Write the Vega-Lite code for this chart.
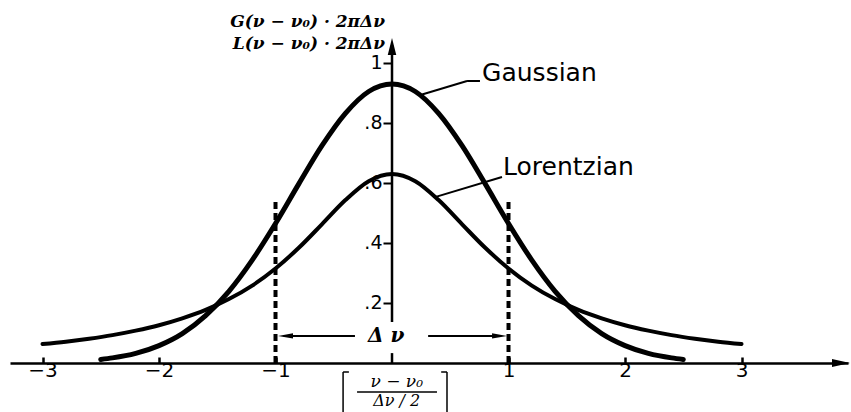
{
  "$schema": "https://vega.github.io/schema/vega-lite/v6.json",
  "width": 838,
  "height": 325,
  "autosize": {"type": "none"},
  "padding": {"left": 10, "top": 38, "right": 3, "bottom": 49},
  "background": "white",
  "config": {"view": {"stroke": null}},
  "data": {"values": [{}]},
  "datasets": {
    "gaussian": [
      {"x": -2.5, "value": 0.012}, {"x": -2.4, "value": 0.017}, {"x": -2.2, "value": 0.032},
      {"x": -2.0, "value": 0.058}, {"x": -1.8, "value": 0.098}, {"x": -1.6, "value": 0.158},
      {"x": -1.4, "value": 0.239}, {"x": -1.2, "value": 0.343}, {"x": -1.0, "value": 0.465},
      {"x": -0.8, "value": 0.597}, {"x": -0.6, "value": 0.725}, {"x": -0.4, "value": 0.832},
      {"x": -0.2, "value": 0.905}, {"x": 0.0, "value": 0.93}, {"x": 0.2, "value": 0.905},
      {"x": 0.4, "value": 0.832}, {"x": 0.6, "value": 0.725}, {"x": 0.8, "value": 0.597},
      {"x": 1.0, "value": 0.465}, {"x": 1.2, "value": 0.343}, {"x": 1.4, "value": 0.239},
      {"x": 1.6, "value": 0.158}, {"x": 1.8, "value": 0.098}, {"x": 2.0, "value": 0.058},
      {"x": 2.2, "value": 0.032}, {"x": 2.4, "value": 0.017}, {"x": 2.5, "value": 0.012}
    ],
    "lorentzian": [
      {"x": -3.0, "value": 0.063}, {"x": -2.8, "value": 0.071}, {"x": -2.6, "value": 0.081},
      {"x": -2.4, "value": 0.093}, {"x": -2.2, "value": 0.108}, {"x": -2.0, "value": 0.126},
      {"x": -1.8, "value": 0.149}, {"x": -1.6, "value": 0.177}, {"x": -1.4, "value": 0.213},
      {"x": -1.2, "value": 0.258}, {"x": -1.0, "value": 0.315}, {"x": -0.8, "value": 0.384},
      {"x": -0.6, "value": 0.463}, {"x": -0.4, "value": 0.543}, {"x": -0.2, "value": 0.606},
      {"x": 0.0, "value": 0.63}, {"x": 0.2, "value": 0.606}, {"x": 0.4, "value": 0.543},
      {"x": 0.6, "value": 0.463}, {"x": 0.8, "value": 0.384}, {"x": 1.0, "value": 0.315},
      {"x": 1.2, "value": 0.258}, {"x": 1.4, "value": 0.213}, {"x": 1.6, "value": 0.177},
      {"x": 1.8, "value": 0.149}, {"x": 2.0, "value": 0.126}, {"x": 2.2, "value": 0.108},
      {"x": 2.4, "value": 0.093}, {"x": 2.6, "value": 0.081}, {"x": 2.8, "value": 0.071},
      {"x": 3.0, "value": 0.063}
    ],
    "halfWidth": [{"x": -1}, {"x": 1}]
  },
  "layer": [
    {
      "data": {"name": "gaussian"},
      "mark": {"type": "line", "color": "black", "strokeWidth": 5, "interpolate": "monotone", "strokeCap": "round"},
      "encoding": {
        "x": {
          "field": "x", "type": "quantitative", "title": null,
          "scale": {"domain": [-3.279, 3.914], "nice": false, "zero": false},
          "axis": {
            "values": [-3, -2, -1, 1, 2, 3], "format": "d", "grid": false,
            "domainColor": "black", "domainWidth": 2.5,
            "tickColor": "black", "tickWidth": 2.5, "tickSize": -6,
            "labelFont": "DejaVu Sans", "labelFontSize": 20, "labelColor": "black",
            "labelPadding": 3, "labelFlush": false
          }
        },
        "y": {
          "field": "value", "type": "quantitative", "title": null,
          "scale": {"domain": [0, 1.0833], "nice": false, "zero": false},
          "axis": {
            "values": [0.2, 0.4, 0.6, 0.8, 1], "grid": false, "domain": false,
            "offset": -382,
            "tickColor": "black", "tickWidth": 2, "tickSize": 9,
            "labelFont": "DejaVu Sans", "labelFontSize": 19, "labelColor": "black",
            "labelPadding": 1,
            "labelExpr": "datum.value == 1 ? '1' : replace(format(datum.value, '.1f'), '0.', '.')"
          }
        }
      }
    },
    {
      "data": {"name": "lorentzian"},
      "mark": {"type": "line", "color": "black", "strokeWidth": 4, "interpolate": "monotone", "strokeCap": "round"},
      "encoding": {
        "x": {"field": "x", "type": "quantitative"},
        "y": {"field": "value", "type": "quantitative"}
      }
    },
    {
      "data": {"name": "halfWidth"},
      "mark": {"type": "rule", "color": "black", "strokeWidth": 4, "strokeDash": [7, 4]},
      "encoding": {
        "x": {"field": "x", "type": "quantitative"},
        "y": {"datum": 0},
        "y2": {"datum": 0.55}
      }
    },
    {
      "mark": {"type": "rule", "color": "black", "strokeWidth": 2.5},
      "encoding": {"x": {"datum": 0}, "y": {"datum": 0}, "y2": {"datum": 0.033}}
    },
    {
      "mark": {"type": "rule", "color": "black", "strokeWidth": 2.5},
      "encoding": {"x": {"datum": 0}, "y": {"datum": 0.137}, "y2": {"datum": 1.06}}
    },
    {
      "mark": {"type": "point", "filled": true, "color": "black", "opacity": 1, "size": 289, "shape": "M0,-1L0.5,1L-0.5,1Z"},
      "encoding": {"x": {"datum": 0}, "y": {"datum": 1.055}}
    },
    {
      "mark": {"type": "point", "filled": true, "color": "black", "opacity": 1, "size": 324, "shape": "M1,0L-1,-0.45L-1,0.45Z"},
      "encoding": {"x": {"datum": 3.854}, "y": {"datum": 0}}
    },
    {
      "mark": {"type": "rule", "color": "black", "strokeWidth": 2},
      "encoding": {"x": {"datum": -0.318}, "x2": {"datum": -0.93}, "y": {"datum": 0.09}}
    },
    {
      "mark": {"type": "rule", "color": "black", "strokeWidth": 2},
      "encoding": {"x": {"datum": 0.31}, "x2": {"datum": 0.93}, "y": {"datum": 0.09}}
    },
    {
      "mark": {"type": "point", "filled": true, "color": "black", "opacity": 1, "size": 225, "shape": "M-1,0L1,-0.35L1,0.35Z"},
      "encoding": {"x": {"datum": -0.914}, "y": {"datum": 0.09}}
    },
    {
      "mark": {"type": "point", "filled": true, "color": "black", "opacity": 1, "size": 225, "shape": "M1,0L-1,-0.35L-1,0.35Z"},
      "encoding": {"x": {"datum": 0.923}, "y": {"datum": 0.09}}
    },
    {
      "mark": {"type": "text", "text": "Δ ν", "font": "DejaVu Serif", "fontSize": 20, "fontStyle": "italic", "fontWeight": "bold", "align": "center", "baseline": "middle", "color": "black"},
      "encoding": {"x": {"datum": -0.05}, "y": {"datum": 0.09}}
    },
    {
      "mark": {"type": "rule", "color": "black", "strokeWidth": 2},
      "encoding": {"x": {"datum": 0.258}, "y": {"datum": 0.895}, "x2": {"datum": 0.644}, "y2": {"datum": 0.94}}
    },
    {
      "mark": {"type": "rule", "color": "black", "strokeWidth": 2},
      "encoding": {"x": {"datum": 0.644}, "y": {"datum": 0.94}, "x2": {"datum": 0.755}, "y2": {"datum": 0.94}}
    },
    {
      "mark": {"type": "rule", "color": "black", "strokeWidth": 2},
      "encoding": {"x": {"datum": 0.369}, "y": {"datum": 0.553}, "x2": {"datum": 0.944}, "y2": {"datum": 0.62}}
    },
    {
      "mark": {"type": "text", "text": "Gaussian", "font": "DejaVu Sans", "fontSize": 25, "align": "left", "baseline": "alphabetic", "color": "black"},
      "encoding": {"x": {"datum": 0.773}, "y": {"datum": 0.94}}
    },
    {
      "mark": {"type": "text", "text": "Lorentzian", "font": "DejaVu Sans", "fontSize": 25, "align": "left", "baseline": "alphabetic", "color": "black"},
      "encoding": {"x": {"datum": 0.953}, "y": {"datum": 0.625}}
    },
    {
      "mark": {"type": "text", "text": "G(ν − ν₀) · 2πΔν", "font": "DejaVu Serif", "fontSize": 17, "fontStyle": "italic", "fontWeight": "bold", "align": "right", "baseline": "alphabetic", "color": "black"},
      "encoding": {"x": {"datum": -0.06}, "y": {"datum": 1.12}}
    },
    {
      "mark": {"type": "text", "text": "L(ν − ν₀) · 2πΔν", "font": "DejaVu Serif", "fontSize": 17, "fontStyle": "italic", "fontWeight": "bold", "align": "right", "baseline": "alphabetic", "color": "black"},
      "encoding": {"x": {"datum": -0.06}, "y": {"datum": 1.048}}
    },
    {
      "mark": {"type": "text", "text": "ν − ν₀", "font": "DejaVu Serif", "fontSize": 17, "fontStyle": "italic", "align": "center", "baseline": "middle", "color": "black"},
      "encoding": {"x": {"datum": 0.04}, "y": {"datum": -0.063}}
    },
    {
      "mark": {"type": "rule", "color": "black", "strokeWidth": 1.5},
      "encoding": {"x": {"datum": -0.3}, "x2": {"datum": 0.386}, "y": {"datum": -0.097}}
    },
    {
      "mark": {"type": "text", "text": "Δν / 2", "font": "DejaVu Serif", "fontSize": 16, "fontStyle": "italic", "align": "center", "baseline": "middle", "color": "black"},
      "encoding": {"x": {"datum": 0.04}, "y": {"datum": -0.128}}
    },
    {
      "mark": {"type": "rule", "color": "black", "strokeWidth": 1.5},
      "encoding": {"x": {"datum": -0.42}, "y": {"datum": -0.03}, "y2": {"datum": -0.17}}
    },
    {
      "mark": {"type": "rule", "color": "black", "strokeWidth": 1.5},
      "encoding": {"x": {"datum": -0.42}, "x2": {"datum": -0.37}, "y": {"datum": -0.03}}
    },
    {
      "mark": {"type": "rule", "color": "black", "strokeWidth": 1.5},
      "encoding": {"x": {"datum": 0.472}, "y": {"datum": -0.03}, "y2": {"datum": -0.17}}
    },
    {
      "mark": {"type": "rule", "color": "black", "strokeWidth": 1.5},
      "encoding": {"x": {"datum": 0.422}, "x2": {"datum": 0.472}, "y": {"datum": -0.03}}
    }
  ]
}
